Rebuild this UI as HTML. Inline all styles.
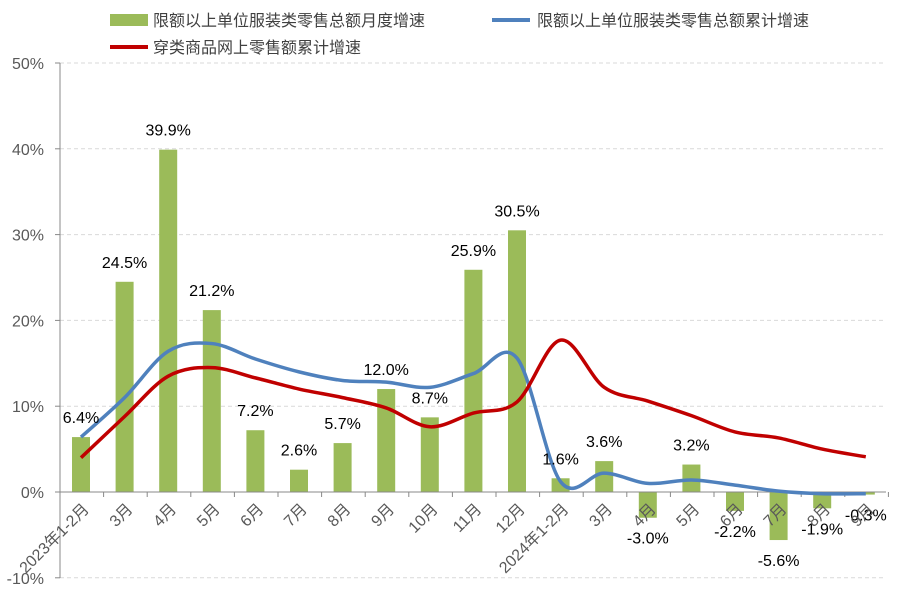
<!DOCTYPE html><html><head><meta charset="utf-8"><style>
body{margin:0;background:#fff;width:899px;height:593px;overflow:hidden}
svg text{font-family:"Liberation Sans","Noto Sans CJK SC",sans-serif}
</style></head><body>
<svg id="s" width="899" height="593" xmlns="http://www.w3.org/2000/svg">
<rect x="110" y="14" width="38" height="12" fill="#9bbb59"/>
<text x="153" y="26" font-size="16" fill="#404040">限额以上单位服装类零售总额月度增速</text>
<line x1="492" y1="20" x2="530" y2="20" stroke="#4f81bd" stroke-width="4"/>
<text x="537" y="26" font-size="16" fill="#404040">限额以上单位服装类零售总额累计增速</text>
<line x1="110" y1="47" x2="148" y2="47" stroke="#c00000" stroke-width="4"/>
<text x="153" y="53" font-size="16" fill="#404040">穿类商品网上零售额累计增速</text>
<g id="g"></g>
</svg>
<script>
const g=document.getElementById('g');let h='';
const Y=v=>492-v*8.58, X=i=>81+i*43.6;
for(let v=-10;v<=50;v+=10){const y=Y(v);
 if(v!==0)h+=`<line x1="60" y1="${y}" x2="886" y2="${y}" stroke="#d9d9d9" stroke-dasharray="4,3"/>`;
 h+=`<line x1="55" y1="${y}" x2="60" y2="${y}" stroke="#888"/>`;
 h+=`<text x="44" y="${y+6}" font-size="16" fill="#595959" text-anchor="end">${v}%</text>`;}
const b=[6.4,24.5,39.9,21.2,7.2,2.6,5.7,12.0,8.7,25.9,30.5,1.6,3.6,-3.0,3.2,-2.2,-5.6,-1.9,-0.3];
const cat=['2023年1-2月','3月','4月','5月','6月','7月','8月','9月','10月','11月','12月','2024年1-2月','3月','4月','5月','6月','7月','8月','9月'];
b.forEach((v,i)=>{const x=X(i),y=Y(Math.max(v,0)),hh=Math.abs(v)*8.58;
 h+=`<rect x="${x-9}" y="${y}" width="18" height="${hh}" fill="#9bbb59"/>`;});
h+=`<line x1="60" y1="63" x2="60" y2="578" stroke="#888"/><line x1="60" y1="492" x2="886" y2="492" stroke="#888"/>`;
for(let i=0;i<=19;i++){const x=60+i*43.6;h+=`<line x1="${x}" y1="492" x2="${x}" y2="497" stroke="#888"/>`;}
function path(d,c){const p=d.map((v,i)=>[X(i),Y(v)]);let s=`M${p[0][0]},${p[0][1]}`;
 for(let i=0;i<p.length-1;i++){const p0=p[i-1]||p[i],p1=p[i],p2=p[i+1],p3=p[i+2]||p2,t=6;
 s+=`C${p1[0]+(p2[0]-p0[0])/t},${p1[1]+(p2[1]-p0[1])/t} ${p2[0]-(p3[0]-p1[0])/t},${p2[1]-(p3[1]-p1[1])/t} ${p2[0]},${p2[1]}`;}
 return `<path d="${s}" fill="none" stroke="${c}" stroke-width="3.5"/>`;}
h+=path([6.4,11,16.4,17.3,15.5,14,13,12.8,12.2,13.8,15.6,1.2,2.2,1.0,1.4,0.8,0.1,-0.2,-0.2],'#4f81bd');
h+=path([4.0,8.8,13.5,14.5,13.3,12.0,11.0,9.8,7.6,9.2,10.5,17.7,12.2,10.6,8.9,7.0,6.3,5.0,4.1],'#c00000');
b.forEach((v,i)=>{const x=X(i);let y=v>=0?Y(v)-14:Y(v)+26;
 h+=`<text x="${x}" y="${y}" font-size="16" fill="#000" text-anchor="middle">${v.toFixed(1)}%</text>`;
 h+=`<text transform="translate(${x+9},510) rotate(-45)" font-size="16" fill="#595959" text-anchor="end">${cat[i]}</text>`;});
g.innerHTML=h;
</script>
</body></html>
